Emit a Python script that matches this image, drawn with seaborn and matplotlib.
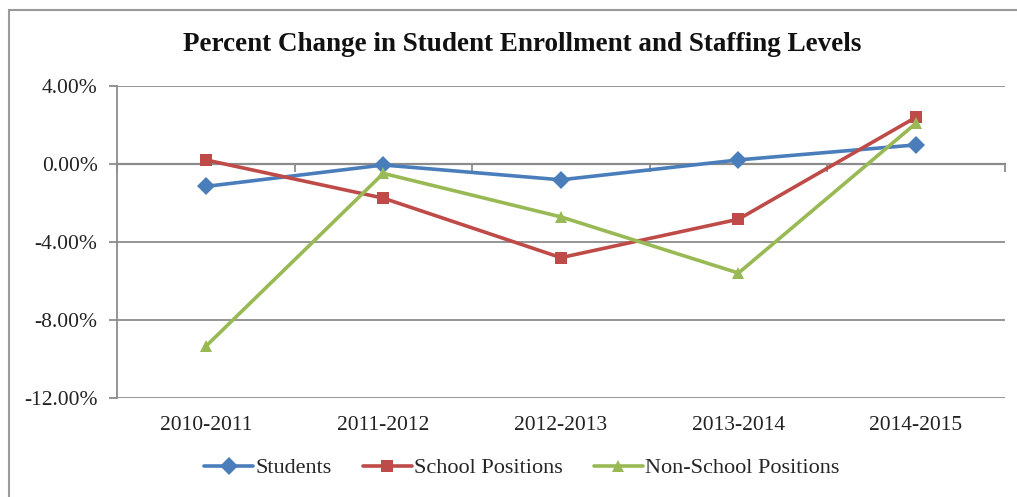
import matplotlib
matplotlib.use("Agg")
import matplotlib.pyplot as plt
from matplotlib.patches import Rectangle
from matplotlib.ticker import FuncFormatter, FixedLocator
import seaborn as sns
import pandas as pd

years = ["2010-2011", "2011-2012", "2012-2013", "2013-2014", "2014-2015"]
students = [-1.15, -0.05, -0.81, 0.21, 0.98]
school_positions = [0.21, -1.75, -4.80, -2.83, 2.40]
non_school_positions = [-9.35, -0.48, -2.71, -5.59, 2.09]

series_names = ["Students", "School Positions", "Non-School Positions"]
series_colors = ["#4A7EBB", "#BE4B48", "#98B954"]
series_markers = ["D", "s", "^"]

df = pd.DataFrame({
    "Year": years * 3,
    "Change": students + school_positions + non_school_positions,
    "Series": [s for s in series_names for _ in years],
})

sns.set_theme(style="white")
plt.rcParams["font.family"] = ["Liberation Serif", "DejaVu Serif"]

fig = plt.figure(figsize=(10.17, 4.97), dpi=100)
ax = fig.add_axes([0.115, 0.199, 0.873, 0.628])

grid_color = "#8C8C8C"
for yv in [4, -4, -8, -12]:
    ax.axhline(yv, color=grid_color, lw=1.3, zorder=0)

sns.lineplot(
    data=df, x="Year", y="Change", hue="Series", style="Series",
    hue_order=series_names, style_order=series_names,
    palette=series_colors, markers=series_markers, dashes=False,
    markersize=9, linewidth=2.6, markeredgewidth=0, sort=False,
    ax=ax, zorder=3,
)

ax.set_ylim(-12, 4)
ax.set_xlim(-0.5, len(years) - 0.5)
ax.set_yticks([4, 0, -4, -8, -12])
ax.yaxis.set_major_formatter(FuncFormatter(lambda v, p: f"{v:.2f}%"))
ax.tick_params(axis="y", which="both", left=True, length=6, width=1.3,
               color=grid_color, labelsize=15.5, pad=8, labelcolor="#222222")
ax.set_xlabel("")
ax.set_ylabel("")

# Horizontal axis line crosses at zero with ticks between categories
ax.spines["bottom"].set_position(("data", 0))
ax.spines["bottom"].set_color(grid_color)
ax.spines["bottom"].set_linewidth(1.6)
ax.xaxis.set_major_locator(FixedLocator([i - 0.5 for i in range(len(years) + 1)]))
ax.set_xticklabels([""] * (len(years) + 1))
ax.tick_params(axis="x", bottom=True, length=6, width=1.3, color=grid_color,
               direction="out")
ax.spines["left"].set_color(grid_color)
ax.spines["left"].set_linewidth(1.3)
for s in ["top", "right"]:
    ax.spines[s].set_visible(False)

# Category labels sit below the plot area
sec = ax.secondary_xaxis(0.0)
sec.set_xticks(range(len(years)))
sec.set_xticklabels(years)
sec.tick_params(length=0, labelsize=15.5, pad=13, labelcolor="#222222")
sec.spines["bottom"].set_visible(False)

fig.suptitle("Percent Change in Student Enrollment and Staffing Levels",
             x=0.513, y=0.935, fontsize=19.5, fontweight="bold", color="#111111")

handles, labels = ax.get_legend_handles_labels()
ax.legend_.remove()
fig.legend(handles, labels, loc="center", bbox_to_anchor=(0.513, 0.058),
           ncol=3, frameon=False, fontsize=16, handlelength=2.2,
           columnspacing=1.4, handletextpad=0.1)

fig.patches.append(Rectangle((9 / 1017, -0.1), 1.2, 1.1 - 10 / 497,
                             transform=fig.transFigure, fill=False,
                             edgecolor="#9A9A9A", lw=1.5))

fig.savefig("out.png", dpi=100)
